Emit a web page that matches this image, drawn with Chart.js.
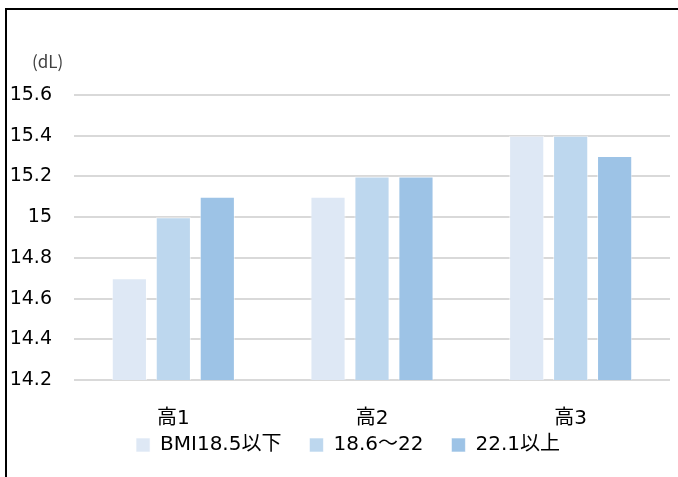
<!DOCTYPE html>
<html>
<head>
<meta charset="utf-8">
<script src="https://cdn.jsdelivr.net/npm/chart.js@4/dist/chart.umd.min.js"></script>
<style>
  html, body { margin: 0; padding: 0; background: #fff; }
  #wrap { position: relative; width: 678px; height: 477px; }
</style>
</head>
<body>
<div id="wrap"><canvas id="c" width="678" height="477"></canvas></div>
<script>
// Values per school year, split by BMI group
const categories = ['高1', '高2', '高3'];
const seriesNames = ['BMI18.5以下', '18.6～22', '22.1以上'];
const bmiLow = [14.7, 15.1, 15.4];
const bmiMid = [15.0, 15.2, 15.4];
const bmiHigh = [15.1, 15.2, 15.3];
const yTicks = [14.2, 14.4, 14.6, 14.8, 15, 15.2, 15.4, 15.6];
const unitLabel = '(dL)';

const colors = ['#DEE8F5', '#BDD7EE', '#9DC3E6'];
const FONT = "'DejaVu Sans', 'Noto Sans CJK JP', sans-serif";
const LEGEND_HEIGHT = 45;

// Frame lines (top and left), unit label, and legend placement tweaks
const framePlugin = {
  id: 'frame',
  beforeUpdate(chart) {
    const lg = chart.legend;
    if (lg && !lg._fixedHeight) {
      const fit = lg.fit.bind(lg);
      lg.fit = function () { fit(); this.height = LEGEND_HEIGHT; };
      lg._fixedHeight = true;
    }
  },
  afterLayout(chart) {
    const lg = chart.legend;
    if (lg) {
      lg.left = 26;
      lg.top -= 25;
    }
  },
  beforeDraw(chart) {
    const ctx = chart.ctx;
    ctx.save();
    ctx.fillStyle = '#fff';
    ctx.fillRect(0, 0, chart.width, chart.height);
    ctx.fillStyle = '#000';
    ctx.fillRect(5, 8, chart.width - 5, 2);
    ctx.fillRect(5, 8, 2, chart.height - 8);
    ctx.restore();
  },
  afterDraw(chart) {
    const ctx = chart.ctx;
    ctx.save();
    ctx.font = "17px 'Noto Sans CJK JP', sans-serif";
    ctx.fillStyle = '#404040';
    ctx.textAlign = 'left';
    ctx.textBaseline = 'middle';
    ctx.fillText(unitLabel, 32, 62);
    ctx.restore();
  }
};

const data = {
  labels: categories,
  datasets: [bmiLow, bmiMid, bmiHigh].map((vals, i) => ({
    label: seriesNames[i],
    data: vals,
    backgroundColor: colors[i],
    borderColor: 'rgba(255,255,255,0.6)',
    borderWidth: 1,
    barPercentage: 0.8,
    categoryPercentage: 0.664
  }))
};

new Chart(document.getElementById('c'), {
  type: 'bar',
  data,
  plugins: [framePlugin],
  options: {
    responsive: false,
    animation: false,
    layout: { padding: { top: 95, right: 8, left: 0, bottom: 0 } },
    plugins: {
      tooltip: { enabled: false },
      legend: {
        position: 'bottom',
        labels: {
          font: { family: FONT, size: 20 },
          color: '#000',
          boxWidth: 14,
          boxHeight: 14,
          padding: 28
        }
      }
    },
    scales: {
      x: {
        afterFit(scale) { scale.height = 52; },
        grid: { display: false, drawTicks: false },
        border: { display: false },
        ticks: {
          font: { family: FONT, size: 20 },
          color: '#000',
          padding: 27
        }
      },
      y: {
        min: 14.2,
        max: 15.6,
        afterFit(scale) { scale.width = 74; },
        afterBuildTicks(scale) { scale.ticks = yTicks.map(v => ({ value: v })); },
        grid: { color: '#D9D9D9', lineWidth: 2, drawTicks: false },
        border: { display: false },
        ticks: {
          font: { family: FONT, size: 19 },
          color: '#000',
          padding: 22,
          callback: v => String(v)
        }
      }
    }
  }
});
</script>
</body>
</html>
